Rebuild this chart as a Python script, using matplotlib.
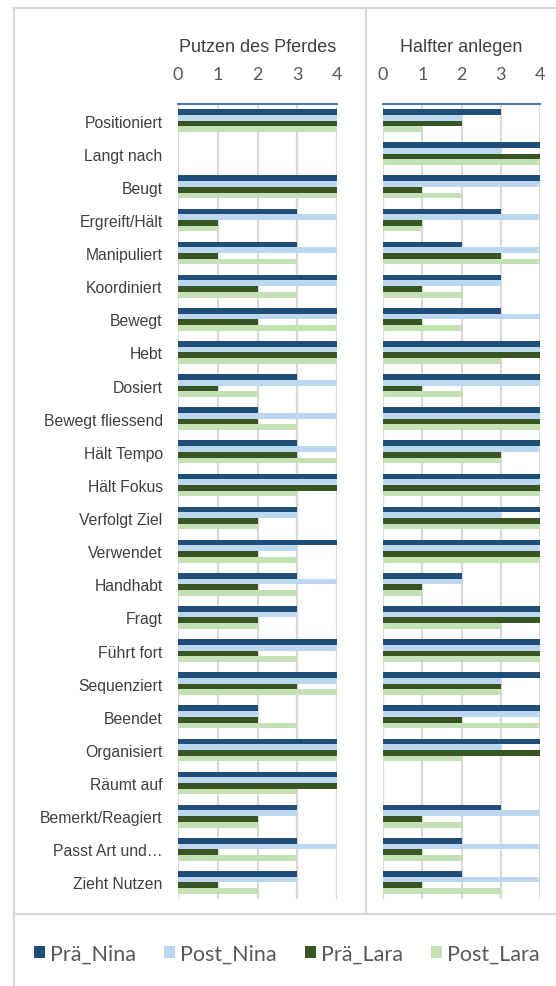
import matplotlib.pyplot as plt
import numpy as np
from matplotlib.lines import Line2D
from matplotlib.patches import Patch

categories = ["Positioniert", "Langt nach", "Beugt", "Ergreift/Hält", "Manipuliert",
              "Koordiniert", "Bewegt", "Hebt", "Dosiert", "Bewegt fliessend",
              "Hält Tempo", "Hält Fokus", "Verfolgt Ziel", "Verwendet", "Handhabt",
              "Fragt", "Führt fort", "Sequenziert", "Beendet", "Organisiert",
              "Räumt auf", "Bemerkt/Reagiert", "Passt Art und…", "Zieht Nutzen"]

series = ["Prä_Nina", "Post_Nina", "Prä_Lara", "Post_Lara"]
colors = ["#1F4E79", "#BDD7EE", "#375623", "#C5E0B4"]

# Putzen des Pferdes
putzen_pre_nina  = [4, 0, 4, 3, 3, 4, 4, 4, 3, 2, 3, 4, 3, 4, 3, 3, 4, 4, 2, 4, 4, 3, 3, 3]
putzen_post_nina = [4, 0, 4, 4, 4, 4, 4, 4, 4, 4, 4, 4, 3, 3, 4, 3, 4, 4, 2, 4, 4, 3, 4, 3]
putzen_pre_lara  = [4, 0, 4, 1, 1, 2, 2, 4, 1, 2, 3, 4, 2, 2, 2, 2, 2, 3, 2, 4, 4, 2, 1, 1]
putzen_post_lara = [4, 0, 4, 1, 3, 3, 4, 4, 2, 3, 4, 3, 2, 3, 3, 2, 3, 4, 3, 4, 3, 2, 3, 2]

# Halfter anlegen
halfter_pre_nina  = [3, 4, 4, 3, 2, 3, 3, 4, 4, 4, 4, 4, 4, 4, 2, 4, 4, 4, 4, 4, 0, 3, 2, 2]
halfter_post_nina = [2, 3, 4, 4, 4, 3, 4, 4, 4, 4, 4, 4, 3, 4, 2, 4, 4, 3, 4, 3, 0, 4, 4, 4]
halfter_pre_lara  = [2, 4, 1, 1, 3, 1, 1, 4, 1, 4, 3, 4, 4, 4, 1, 4, 4, 3, 2, 4, 0, 1, 1, 1]
halfter_post_lara = [1, 4, 2, 1, 4, 2, 2, 3, 2, 4, 3, 4, 4, 4, 1, 3, 4, 3, 4, 2, 0, 2, 2, 3]

panels = [
    ("Putzen des Pferdes", [putzen_pre_nina, putzen_post_nina, putzen_pre_lara, putzen_post_lara]),
    ("Halfter anlegen", [halfter_pre_nina, halfter_post_nina, halfter_pre_lara, halfter_post_lara]),
]

W, H = 556, 987
fig = plt.figure(figsize=(W / 100, H / 100), dpi=100)

grey = "#D9D9D9"
y = np.arange(len(categories))
bh = 0.172
offsets = [-1.5 * bh, -0.5 * bh, 0.5 * bh, 1.5 * bh]

axes_px = [(178, 337), (383, 540)]
top_px, bot_px = 105, 900

for k, (title, data) in enumerate(panels):
    x0, x1 = axes_px[k]
    ax = fig.add_axes([x0 / W, 1 - bot_px / H, (x1 - x0) / W, (bot_px - top_px) / H])
    for vals, off, c in zip(data, offsets, colors):
        ax.barh(y + off, vals, height=bh, color=c, zorder=3)
    ax.set_xlim(0, 4)
    ax.set_ylim(len(categories) - 0.5, -0.5)
    ax.set_xticks([0, 1, 2, 3, 4])
    ax.xaxis.tick_top()
    ax.tick_params(axis="x", length=0, pad=16, labelsize=13, labelcolor="#595959")
    for t in ax.get_xticklabels():
        t.set_family("Lato")
    ax.grid(axis="x", color=grey, linewidth=1.6, zorder=0)
    for s in ["left", "right", "bottom"]:
        ax.spines[s].set_visible(False)
    ax.spines["top"].set_color("#4472C4")
    ax.spines["top"].set_linewidth(1.4)
    ax.set_title(title, fontsize=13, color="#404040", pad=38, family="Liberation Sans")
    if k == 0:
        ax.set_yticks(y)
        ax.set_yticklabels(categories, fontsize=11.3, color="#404040", family="Liberation Sans")
        ax.tick_params(axis="y", length=0, pad=11)
    else:
        ax.set_yticks([])

# frame lines like the spreadsheet chart
def fline(xs, ys):
    fig.add_artist(Line2D([x / W for x in xs], [1 - v / H for v in ys],
                          color=grey, linewidth=1.6))

fline([14, 14], [9, H])
fline([14, W], [9, 9])
fline([366, 366], [9, 915])
fline([14, W], [915, 915])

handles = [Patch(facecolor=c, label=s) for c, s in zip(colors, series)]
fig.legend(handles=handles, loc="center", bbox_to_anchor=(287 / W, 1 - 955 / H),
           ncol=4, frameon=False, prop={"family": "Lato", "size": 15.5},
           handlelength=0.5, handleheight=0.5, handletextpad=0.25,
           columnspacing=1.3, labelcolor="#595959")

fig.savefig("out.png", dpi=100)
